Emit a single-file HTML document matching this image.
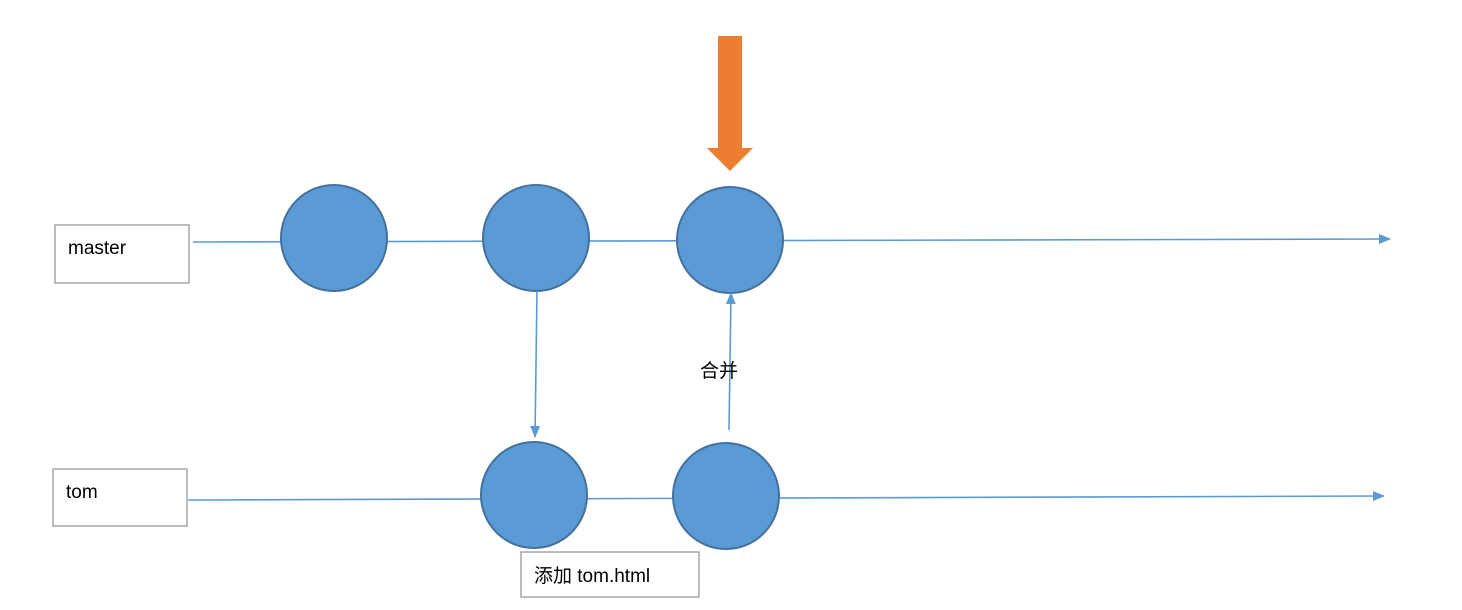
<!DOCTYPE html>
<html><head><meta charset="utf-8"><style>
html,body{margin:0;padding:0;background:#fff;width:1462px;height:610px;overflow:hidden}
text{font-family:"Liberation Sans","Noto Sans CJK SC",sans-serif;font-size:19px;fill:#000}
</style></head><body>
<svg width="1462" height="610" viewBox="0 0 1462 610">
<defs>
<marker id="ah" markerWidth="12" markerHeight="10" refX="11" refY="5" orient="auto" markerUnits="userSpaceOnUse">
<path d="M0,0 L12,5 L0,10 z" fill="#5b9bd5"/></marker>
</defs>
<g>
<line x1="193" y1="242" x2="1390" y2="239" stroke="#5b9bd5" stroke-width="1.6" marker-end="url(#ah)"/>
<circle cx="334" cy="238" r="53" fill="#5b9bd5" stroke="#41719c" stroke-width="2"/>
<circle cx="536" cy="238" r="53" fill="#5b9bd5" stroke="#41719c" stroke-width="2"/>
<circle cx="730" cy="240" r="53" fill="#5b9bd5" stroke="#41719c" stroke-width="2"/>
<rect x="55" y="225" width="134" height="58" fill="#fff" stroke="#a5a5a5" stroke-width="1.5"/>
<text x="68" y="254">master</text>
</g>
<g>
<line x1="188" y1="500" x2="1384" y2="496" stroke="#5b9bd5" stroke-width="1.6" marker-end="url(#ah)"/>
<circle cx="534" cy="495" r="53" fill="#5b9bd5" stroke="#41719c" stroke-width="2"/>
<circle cx="726" cy="496" r="53" fill="#5b9bd5" stroke="#41719c" stroke-width="2"/>
<rect x="53" y="469" width="134" height="57" fill="#fff" stroke="#a5a5a5" stroke-width="1.5"/>
<text x="66" y="498">tom</text>
<rect x="521" y="552" width="178" height="45" fill="#fff" stroke="#a5a5a5" stroke-width="1.5"/>
<text x="534" y="582">添加 tom.html</text>
</g>
<line x1="537" y1="291" x2="535" y2="437" stroke="#5b9bd5" stroke-width="1.6" marker-end="url(#ah)"/>
<line x1="729" y1="430" x2="731" y2="293" stroke="#5b9bd5" stroke-width="1.6" marker-end="url(#ah)"/>
<text x="700" y="377">合并</text>
<path d="M718,36 H742 V148 H753 L730,171 L707,148 H718 Z" fill="#ed7d31"/>
</svg>
</body></html>
